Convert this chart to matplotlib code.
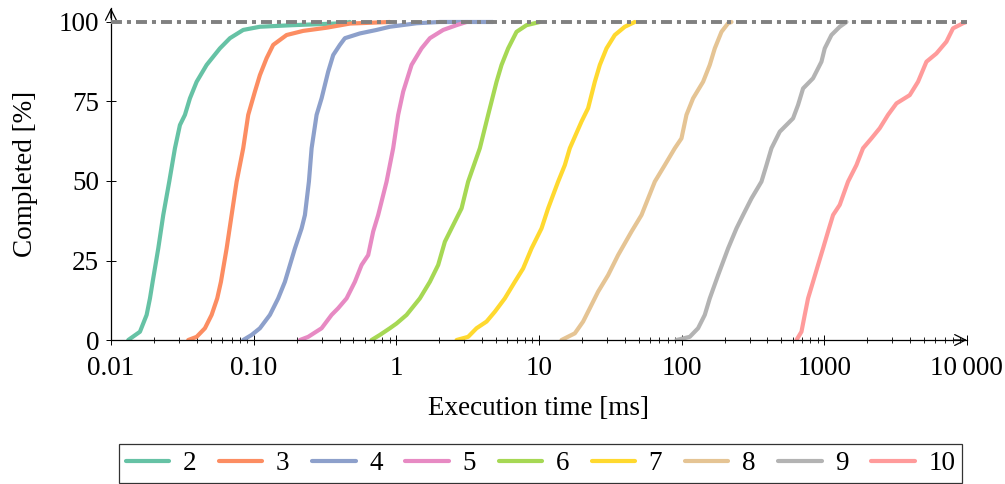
import matplotlib
matplotlib.use("Agg")
import matplotlib.pyplot as plt
from matplotlib.ticker import FixedLocator, FixedFormatter, LogLocator, NullFormatter

plt.rcParams['font.family'] = ['Liberation Serif', 'DejaVu Serif']
plt.rcParams['font.size'] = 19.5
plt.rcParams['lines.scale_dashes'] = False

# execution time [ms] vs completed [%]
t2 = [0.01322, 0.01597, 0.01779, 0.01877, 0.01960, 0.02146, 0.02326, 0.02562,
      0.02809, 0.03045, 0.03301, 0.03578, 0.03987, 0.04685, 0.05804, 0.06823,
      0.08455, 0.1107, 0.1886, 0.4225, 0.4730]
p2 = [0, 2.6, 7.9, 13.1, 18.3, 28.8, 39.3, 49.8, 60.3, 67.6, 70.8, 76, 81.2,
      86.5, 91.7, 94.9, 97.5, 98.5, 99, 99.6, 100]

t3 = [0.03481, 0.03987, 0.04558, 0.05078, 0.05559, 0.05901, 0.06470, 0.07012,
      0.07603, 0.08455, 0.09166, 0.1021, 0.1107, 0.1233, 0.1372, 0.1703, 0.2226,
      0.3249, 0.4730, 0.902]
p3 = [0, 1, 3.7, 7.9, 13.1, 18.3, 28.8, 39.3, 49.8, 60.3, 70.8, 78.1, 83.3,
      88.6, 92.8, 95.9, 97.2, 98.2, 99.5, 100]

t4 = [0.08455, 0.09683, 0.1107, 0.1301, 0.1487, 0.1657, 0.1948, 0.2170, 0.2289,
      0.2441, 0.2550, 0.2764, 0.2996, 0.3333, 0.3613, 0.4025, 0.4363, 0.5558,
      0.7278, 0.9020, 1.388, 2.021, 4.753]
p4 = [0, 1.6, 3.7, 7.9, 13.1, 18.3, 28.8, 35.1, 39.3, 49.8, 60.3, 70.8, 76,
      84.4, 89.6, 92.8, 94.9, 96.4, 97.5, 98.5, 99.6, 100, 100]

t5 = [0.2111, 0.2414, 0.2996, 0.3521, 0.3916, 0.4485, 0.5128, 0.5713, 0.6356,
      0.6888, 0.7467, 0.8551, 0.9512, 1.031, 1.118, 1.280, 1.504, 1.720, 2.132,
      2.647, 3.110]
p5 = [0, 1, 3.7, 7.9, 10, 13.1, 18.3, 23.6, 26.7, 34.1, 39.3, 49.8, 60.3, 70.8,
      78.1, 86.5, 91.7, 94.9, 97.5, 99, 100]

t6 = [0.6712, 0.7676, 0.9020, 1.005, 1.181, 1.464, 1.720, 1.967, 2.191, 2.575,
      2.869, 3.190, 3.853, 4.406, 5.046, 5.470, 6.085, 6.966, 8.189, 10.15]
p6 = [0, 1.6, 3.7, 5.2, 7.9, 13.1, 18.3, 23.6, 30.9, 37.2, 41.4, 49.8, 60.3,
      70.8, 81.2, 86.5, 91.7, 96.9, 99, 100]

t7 = [2.647, 3.190, 3.653, 4.294, 4.909, 5.768, 6.778, 7.750, 8.876, 10.43,
      11.60, 13.63, 15.19, 16.46, 19.89, 22.12, 24.65, 26.72, 29.77, 34.03,
      39.99, 46.99]
p7 = [0, 1, 3.7, 5.8, 8.9, 13.1, 18.3, 22.5, 28.8, 35.1, 41.4, 49.8, 55, 60.3,
      68.7, 72.9, 81.2, 86.5, 91.7, 95.9, 98.5, 100]

t8 = [14.40, 17.85, 20.40, 22.74, 25.99, 30.54, 35.89, 44.56, 52.36, 64.91,
      76.26, 89.63, 99.8, 108.2, 120.4, 141.5, 157.6, 170.9, 190.4, 211.8, 223.8]
p8 = [0, 2.1, 5.8, 10, 15.2, 20.4, 26.7, 34.1, 39.3, 49.8, 55, 60.3, 63.4,
      70.8, 76, 81.2, 86.5, 91.7, 96.9, 99.6, 100]

t9 = [92.1, 114.1, 130.5, 145.4, 157.6, 180.3, 211.8, 242.5, 269.8, 308.8,
      362.9, 393.6, 426.6, 487.7, 604.4, 655.2, 710.5, 834.5, 955.8, 1008, 1123,
      1284, 1431]
p9 = [0, 1, 3.7, 7.9, 13.1, 20.4, 28.8, 35.1, 39.3, 44.5, 49.8, 55, 60.3, 65.5,
      69.7, 73.9, 79.1, 82.3, 87.5, 91.7, 95.9, 98.5, 100]

t10 = [638.7, 692.1, 730, 770, 834.5, 904.6, 980.8, 1063, 1153, 1284, 1468,
       1681, 1870, 2142, 2449, 2800, 3207, 3974, 4543, 5203, 6113, 7183, 7991,
       9391, 9920]
p10 = [0, 2.6, 7.9, 13.1, 18.3, 23.6, 28.8, 34.1, 39.3, 42.5, 49.8, 55, 60.3,
       63.4, 66.6, 70.8, 74.4, 77, 81.2, 87.5, 90.1, 93.8, 98, 99.6, 100]

labels = ['2', '3', '4', '5', '6', '7', '8', '9', '10']
times = [t2, t3, t4, t5, t6, t7, t8, t9, t10]
pcts = [p2, p3, p4, p5, p6, p7, p8, p9, p10]
colors = ['#66c2a5', '#fc8d62', '#8da0cb', '#e78ac3', '#a6d854',
          '#ffd92f', '#e5c494', '#b3b3b3', '#ff9b9b']

xticks = [0.01, 0.1, 1, 10, 100, 1000, 10000]
xticklabels = ['0.01', '0.10', '1', '10', '100', '1000', '10\u2009000']
yticks = [0, 25, 50, 75, 100]

fig = plt.figure(figsize=(10.05, 4.84), dpi=100)
ax = fig.add_axes([0.1104, 0.2975, 0.8517, 0.686])

for t, p, c, lab in zip(times, pcts, colors, labels):
    ax.plot(t, p, color=c, lw=3.0, label=lab,
            solid_joinstyle='round', solid_capstyle='round')

# 100 % reference line
ref, = ax.plot([0.01, 10000], [100, 100], color='#808080', lw=2.8, zorder=5)
ref.set_dashes((7.9, 3.6, 2.9, 3.6))

ax.set_xscale('log')
ax.set_xlim(0.01, 10000)
ax.set_ylim(0, 104.4)

ax.xaxis.set_major_locator(FixedLocator(xticks))
ax.xaxis.set_major_formatter(FixedFormatter(xticklabels))
ax.xaxis.set_minor_locator(LogLocator(base=10, subs=range(2, 10)))
ax.xaxis.set_minor_formatter(NullFormatter())
ax.set_yticks(yticks)

ax.tick_params(axis='both', which='major', direction='inout', length=7,
               width=0.7)
ax.tick_params(axis='x', which='major', pad=8)
ax.tick_params(axis='y', which='major', pad=5)
ax.tick_params(axis='x', which='minor', direction='inout', length=4.5, width=0.6)
ax.tick_params(axis='y', which='minor', left=False)

for side in ['top', 'right']:
    ax.spines[side].set_visible(False)
for side in ['left', 'bottom']:
    ax.spines[side].set_linewidth(0.9)

# axis arrow heads
ax.annotate('', xy=(1.0, 0), xytext=(0.985, 0), xycoords='axes fraction',
            arrowprops=dict(arrowstyle='->', lw=0.9, color='black',
                            shrinkA=0, shrinkB=0), annotation_clip=False)
ax.annotate('', xy=(0, 1.0), xytext=(0, 0.97), xycoords='axes fraction',
            arrowprops=dict(arrowstyle='->', lw=0.9, color='black',
                            shrinkA=0, shrinkB=0), annotation_clip=False)

ax.set_xlabel('Execution time [ms]', labelpad=11)
ax.set_ylabel('Completed [%]', labelpad=15)

leg = fig.legend(loc='lower left', bbox_to_anchor=(119 / 1005, 1 / 484, 843 / 1005, 43 / 484),
                 mode='expand', ncol=9, frameon=True, fancybox=False,
                 handlelength=1.6, handletextpad=0.5, borderaxespad=0,
                 borderpad=0.25)
leg.get_frame().set_edgecolor('black')
leg.get_frame().set_linewidth(0.9)

fig.savefig('out.png', dpi=100)
